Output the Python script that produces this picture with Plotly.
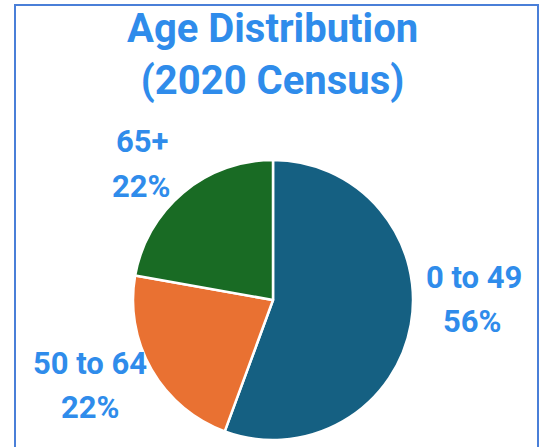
import plotly.graph_objects as go

categories = ["0 to 49", "50 to 64", "65+"]
shares = [55.6, 22.2, 22.2]
colors = ["#156082", "#E97132", "#196B24"]
title_lines = ["Age Distribution", "(2020 Census)"]

TEXT_BLUE = "#2F8CEB"
W, H = 547, 447

# label anchor positions in pixels (category name line, percent line)
label_pos = {
    "0 to 49": ((474, 277), (472, 321)),
    "50 to 64": ((90, 363), (90, 407)),
    "65+": ((142, 141), (142, 186)),
}


def px(x, y):
    return x / W, 1 - y / H


fig = go.Figure()
fig.add_trace(go.Pie(
    labels=categories,
    values=shares,
    sort=False,
    direction="clockwise",
    rotation=0,
    marker=dict(colors=colors, line=dict(color="white", width=2.5)),
    textinfo="none",
    showlegend=False,
    hoverinfo="label+percent",
    domain=dict(x=[133 / W, 413 / W], y=[1 - 440 / H, 1 - 160 / H]),
))

total = sum(shares)
annotations = []
label_font = dict(family="Roboto", size=31, color=TEXT_BLUE, weight="bold")
for cat, val in zip(categories, shares):
    (x1, y1), (x2, y2) = label_pos[cat]
    pct = f"{round(val / total * 100)}%"
    for txt, (xx, yy) in ((cat, (x1, y1)), (pct, (x2, y2))):
        ax, ay = px(xx, yy)
        annotations.append(dict(
            text=txt, x=ax, y=ay, xref="paper", yref="paper",
            xanchor="center", yanchor="middle", showarrow=False,
            font=label_font,
        ))

tx, ty = px(272, 54)
annotations.append(dict(
    text="<br>".join(title_lines), x=tx, y=ty, xref="paper", yref="paper",
    xanchor="center", yanchor="middle", showarrow=False,
    font=dict(family="Roboto", size=40, color=TEXT_BLUE, weight="bold"),
))

fig.update_layout(
    width=W, height=H,
    margin=dict(l=0, r=0, t=0, b=0),
    paper_bgcolor="white",
    plot_bgcolor="white",
    annotations=annotations,
    shapes=[dict(
        type="rect", xref="paper", yref="paper",
        x0=15 / W, x1=538 / W, y0=-0.2, y1=1 - 5 / H,
        line=dict(color="#4A7FD8", width=2),
        fillcolor="rgba(0,0,0,0)",
    )],
)

fig.write_html(
    "out.html",
    config={"displayModeBar": False},
    post_script="document.body.style.margin='0px';document.body.style.overflow='hidden';",
)
